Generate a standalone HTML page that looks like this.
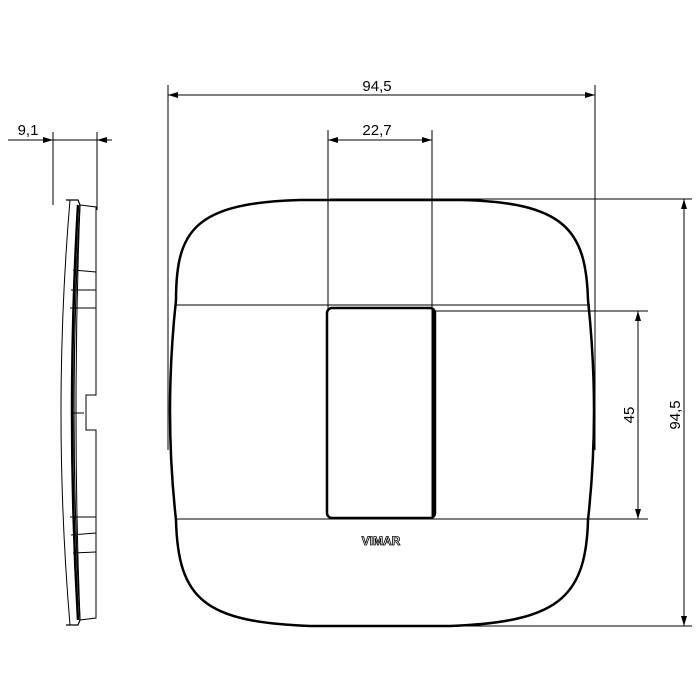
<!DOCTYPE html>
<html><head><style>html,body{margin:0;padding:0;background:#fff}svg{display:block}</style></head>
<body>
<svg width="700" height="700" viewBox="0 0 700 700" xmlns="http://www.w3.org/2000/svg" font-family="Liberation Sans, sans-serif">
<defs>
<marker id="a" viewBox="0 0 10 6" refX="10" refY="3" markerWidth="10" markerHeight="6" markerUnits="userSpaceOnUse" orient="auto-start-reverse"><path d="M0,0 L10,3 L0,6 Z" fill="#000"/></marker>
</defs>
<g stroke="#000" stroke-width="1" fill="none">
<line x1="168" y1="85" x2="168" y2="450"/>
<line x1="595" y1="85" x2="595" y2="450"/>
<line x1="328" y1="130" x2="328" y2="310"/>
<line x1="432" y1="130" x2="432" y2="310"/>
<line x1="176" y1="305" x2="590" y2="305"/>
<line x1="435" y1="311" x2="648" y2="311"/>
<line x1="176" y1="519" x2="648" y2="519"/>
<line x1="330" y1="199" x2="692" y2="199"/>
<line x1="330" y1="626" x2="692" y2="626"/>
<line x1="53" y1="132" x2="53" y2="205"/>
<line x1="97" y1="132" x2="97" y2="210"/>
<line x1="168" y1="95" x2="595" y2="95" marker-start="url(#a)" marker-end="url(#a)"/>
<line x1="328" y1="140" x2="432" y2="140" marker-start="url(#a)" marker-end="url(#a)"/>
<line x1="638" y1="311" x2="638" y2="519" marker-start="url(#a)" marker-end="url(#a)"/>
<line x1="684" y1="199" x2="684" y2="626" marker-start="url(#a)" marker-end="url(#a)"/>
<line x1="8" y1="140" x2="53" y2="140" marker-end="url(#a)"/>
<line x1="112" y1="140" x2="97" y2="140" marker-end="url(#a)"/>
<line x1="53" y1="140" x2="97" y2="140"/>
<path d="M300 200 L460 200 C565 202 586 230 588 300 Q600 412 588 520 C586 600 555 622 450 626 L310 626 C205 622 178 600 176 520 Q164 412 176 300 C176 230 195 203 300 200 Z" stroke-width="2.5"/>
<rect x="327" y="308" width="108" height="210" rx="5" stroke-width="2.5"/>
<line x1="433" y1="310" x2="433" y2="516" stroke-width="3"/>
<path d="M70 200 Q52 412 70 625" stroke-width="1"/>
<path d="M66 200 L78 200 L80 205 Q68 412 80 620 L78 625 L66 625" stroke-width="1.2"/>
<path d="M80 205 Q72 412 80 620" stroke-width="1"/>
<path d="M78 205 Q66 412 78 620" stroke-width="2.5"/>
<path d="M80 205 L96 207 L96 395 L86 395 L86 430 L96 430 L96 618 L80 620" stroke-width="1"/>
<line x1="73" y1="270" x2="96" y2="272"/>
<line x1="71" y1="290" x2="96" y2="290"/>
<line x1="70" y1="308" x2="96" y2="308"/>
<line x1="84" y1="413" x2="72" y2="413"/>
<line x1="70" y1="517" x2="96" y2="517"/>
<line x1="71" y1="535" x2="96" y2="533"/>
<line x1="73" y1="553" x2="96" y2="552"/>
</g>
<g font-size="15" fill="#000" text-anchor="middle">
<text x="377" y="91">94,5</text>
<text x="377" y="135">22,7</text>
<text x="28" y="135">9,1</text>
<text transform="translate(634 415) rotate(-90)">45</text>
<text transform="translate(680 415) rotate(-90)">94,5</text>
</g>
<text x="381" y="545" font-size="12" font-weight="bold" text-anchor="middle" fill="#fff" stroke="#000" stroke-width="0.8">VIMAR</text>
</svg>
</body></html>
